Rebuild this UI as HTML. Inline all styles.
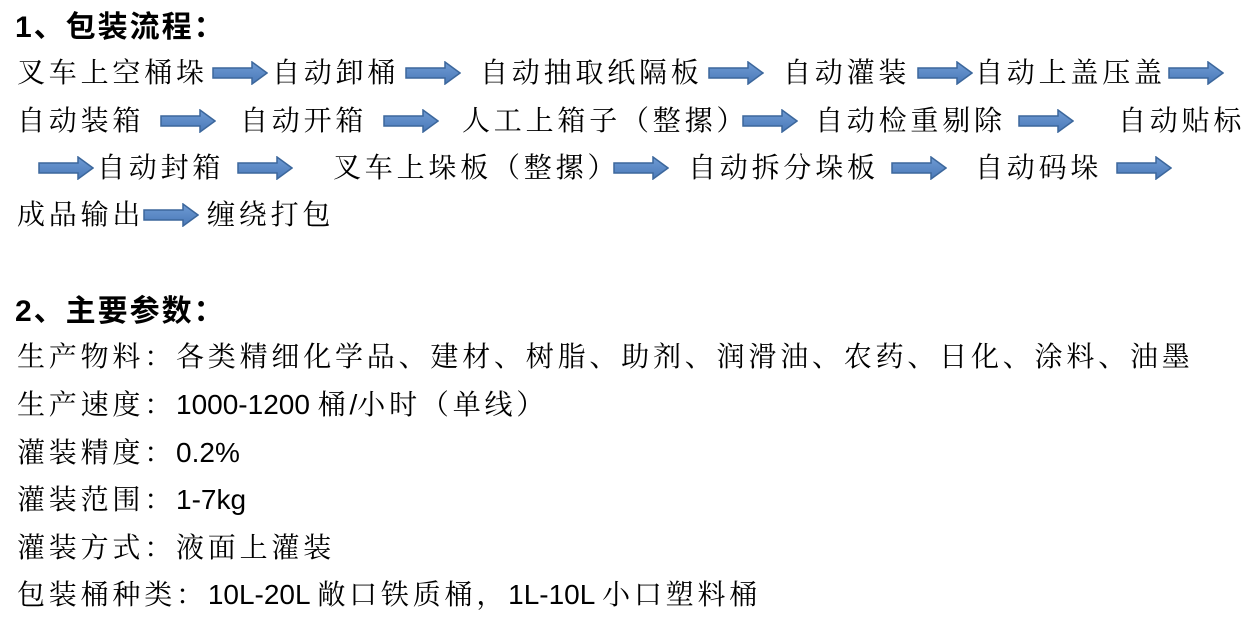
<!DOCTYPE html>
<html><head><meta charset="utf-8"><style>
html,body{margin:0;padding:0;background:#fff;}
body{width:1254px;height:637px;position:relative;overflow:hidden;font-family:"Liberation Sans","Noto Serif CJK SC",serif;color:#000;}
.t{position:absolute;font-size:28px;letter-spacing:3.8px;line-height:32px;white-space:nowrap;transform:translateY(-16px);}
.l{font-family:"Liberation Sans",sans-serif;letter-spacing:0;font-size:28px;}
.h{font-weight:bold;font-size:30px;letter-spacing:2px;font-family:"Liberation Sans","Noto Sans CJK SC",sans-serif;}
svg.a{position:absolute;width:56px;height:24px;transform:translateY(-12px);}
</style></head><body>
<svg width="0" height="0" style="position:absolute"><defs>
<linearGradient id="g" x1="0" y1="0" x2="0" y2="1"><stop offset="0" stop-color="#6f9bd4"/><stop offset="1" stop-color="#4a79b8"/></linearGradient>
<symbol id="ar" viewBox="0 0 56 24"><path d="M1 7 H40 V1 L55 12 L40 23 V17 H1 Z" fill="url(#g)" stroke="#3c679c" stroke-width="1.5"/></symbol>
</defs></svg>

<div class="t h" style="left:15px;top:28px">1、包装流程：</div>

<div class="t" style="left:17px;top:73px">叉车上空桶垛</div>
<svg class="a" style="left:212px;top:73px"><use href="#ar"/></svg>
<div class="t" style="left:272px;top:73px">自动卸桶</div>
<svg class="a" style="left:405px;top:73px"><use href="#ar"/></svg>
<div class="t" style="left:480px;top:73px">自动抽取纸隔板</div>
<svg class="a" style="left:708px;top:73px"><use href="#ar"/></svg>
<div class="t" style="left:783px;top:73px">自动灌装</div>
<svg class="a" style="left:917px;top:73px"><use href="#ar"/></svg>
<div class="t" style="left:975px;top:73px">自动上盖压盖</div>
<svg class="a" style="left:1168px;top:73px"><use href="#ar"/></svg>

<div class="t" style="left:17px;top:121px">自动装箱</div>
<svg class="a" style="left:160px;top:121px"><use href="#ar"/></svg>
<div class="t" style="left:240px;top:121px">自动开箱</div>
<svg class="a" style="left:383px;top:121px"><use href="#ar"/></svg>
<div class="t" style="left:462px;top:121px">人工上箱子（整摞）</div>
<svg class="a" style="left:742px;top:121px"><use href="#ar"/></svg>
<div class="t" style="left:815px;top:121px">自动检重剔除</div>
<svg class="a" style="left:1018px;top:121px"><use href="#ar"/></svg>
<div class="t" style="left:1118px;top:121px">自动贴标</div>

<svg class="a" style="left:38px;top:168px"><use href="#ar"/></svg>
<div class="t" style="left:97px;top:168px">自动封箱</div>
<svg class="a" style="left:237px;top:168px"><use href="#ar"/></svg>
<div class="t" style="left:333px;top:168px">叉车上垛板（整摞）</div>
<svg class="a" style="left:613px;top:168px"><use href="#ar"/></svg>
<div class="t" style="left:688px;top:168px">自动拆分垛板</div>
<svg class="a" style="left:891px;top:168px"><use href="#ar"/></svg>
<div class="t" style="left:975px;top:168px">自动码垛</div>
<svg class="a" style="left:1116px;top:168px"><use href="#ar"/></svg>

<div class="t" style="left:17px;top:215px">成品输出</div>
<svg class="a" style="left:143px;top:215px"><use href="#ar"/></svg>
<div class="t" style="left:207px;top:215px">缠绕打包</div>

<div class="t h" style="left:15px;top:312px">2、主要参数：</div>
<div class="t" style="left:17px;top:357px">生产物料：各类精细化学品、建材、树脂、助剂、润滑油、农药、日化、涂料、油墨</div>
<div class="t" style="left:17px;top:405px">生产速度：<span class="l">1000-1200 </span>桶<span class="l">/</span>小时（单线）</div>
<div class="t" style="left:17px;top:453px">灌装精度：<span class="l">0.2%</span></div>
<div class="t" style="left:17px;top:500px">灌装范围：<span class="l">1-7kg</span></div>
<div class="t" style="left:17px;top:548px">灌装方式：液面上灌装</div>
<div class="t" style="left:17px;top:595px">包装桶种类：<span class="l">10L-20L </span>敞口铁质桶，<span class="l">1L-10L </span>小口塑料桶</div>
</body></html>
